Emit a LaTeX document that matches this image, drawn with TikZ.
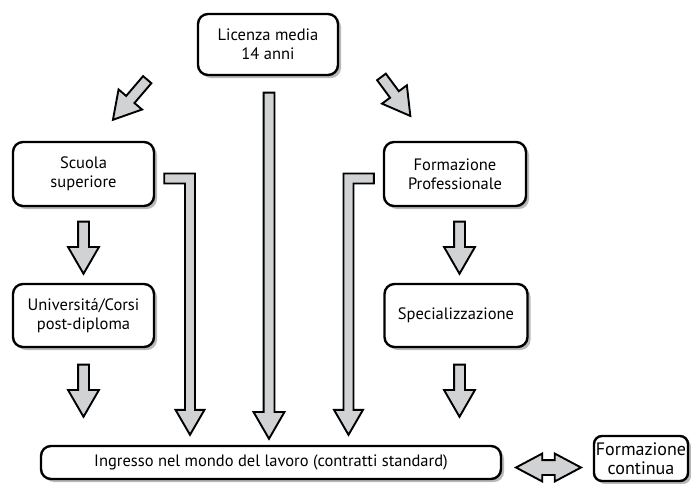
\documentclass[tikz,border=0pt]{standalone}
\usepackage{fontspec}
\setmainfont{PT Sans}
\usetikzlibrary{calc,shapes.arrows,shadows}

\definecolor{arrowgray}{RGB}{208,210,212}
\definecolor{shadowgray}{RGB}{185,185,185}

% fat arrow from one point to another
\newcommand\blkarrow[2]{%
    \path let \p1=(#1), \p2=(#2),
        \n1={atan2(\y2-\y1,\x2-\x1)}, \n2={veclen(\x2-\x1,\y2-\y1)} in
        node[blk, minimum height={\n2-1.5}, rotate=\n1] at ($(\p1)!0.5!(\p2)$) {};}

\begin{document}
\begin{tikzpicture}[x=1pt,y=-1pt,
        font=\fontsize{16.5}{19}\selectfont,
        box/.style={draw,line width=2.4pt,rounded corners=10pt,fill=white,align=center,inner sep=2pt,
            drop shadow={shadow xshift=3pt,shadow yshift=-3pt,fill=shadowgray,opacity=1}},
        blk/.style={single arrow,draw,fill=arrowgray,line width=1.9pt,inner xsep=0pt,inner ysep=4.5pt,
            minimum width=0pt,single arrow head extend=10pt,single arrow tip angle=60},
        dblk/.style={double arrow,draw,fill=arrowgray,line width=1.9pt,inner xsep=0pt,inner ysep=6.5pt,
            minimum width=0pt,double arrow head extend=6.5pt,double arrow tip angle=56}]

    \useasboundingbox (0,0) rectangle (691,483);

    % boxes
    \node[box,minimum width=140pt,minimum height=61pt] (lic) at (268,44.5) {Licenza media\\14 anni};
    \node[box,minimum width=141pt,minimum height=64pt] (scuola) at (83.5,174) {Scuola\\superiore};
    \node[box,minimum width=142pt,minimum height=64pt] (fprof) at (455,174) {Formazione\\Professionale};
    \node[box,minimum width=141pt,minimum height=63pt] (univ) at (83.5,315.5) {Universitá/Corsi\\post-diploma};
    \node[box,minimum width=143pt,minimum height=63pt] (spec) at (456,315.5) {Specializzazione};
    \node[box,minimum width=460pt,minimum height=33pt] (ingr) at (271,462.5)
        {Ingresso nel mondo del lavoro (contratti standard)};
    \node[box,rounded corners=8pt,inner sep=0.5pt,minimum width=94pt,minimum height=45pt,
        font=\fontsize{18}{19.5}\selectfont] (fcont) at (641,458.5) {Formazione\\continua};

    % corners of the bent arrows
    \coordinate (kl) at (190,178.5);
    \coordinate (kr) at (348.5,178.5);
    \coordinate (sl) at ($(scuola.east |- kl)+(9,0)$);
    \coordinate (sr) at ($(fprof.west |- kr)+(-9,0)$);
    \coordinate (tl) at ($(kl |- ingr.north)+(0,-10)$);
    \coordinate (tr) at ($(kr |- ingr.north)+(0,-10)$);

    % arrows
    \blkarrow{$(lic.west)+(-46,31)$}{$(scuola.north)+(32,-24)$}
    \blkarrow{$(lic.east)+(39,28)$}{$(fprof.north)+(-47,-28)$}
    \blkarrow{$(lic.south)+(1,11)$}{$(lic.south |- ingr.north)+(1,-10)$}
    \blkarrow{$(scuola.south)+(0,9)$}{$(univ.north)+(0,-13)$}
    \blkarrow{$(fprof.south)+(4.5,9)$}{$(fprof.south |- univ.north)+(4.5,-13)$}
    \blkarrow{$(univ.south)+(0,11)$}{$(univ.south |- ingr.north)+(0,-32)$}
    \blkarrow{$(spec.south)+(3.5,11)$}{$(spec.south |- ingr.north)+(3.5,-32)$}

    \draw[fill=arrowgray,line width=1.9pt,line join=miter]
        ($(sl)+(0,-5)$) -- ($(kl)+(5,-5)$) -- ($(tl)+(5,-25)$) -- ($(tl)+(14.5,-25)$) -- (tl)
        -- ($(tl)+(-14.5,-25)$) -- ($(tl)+(-5,-25)$) -- ($(kl)+(-5,5)$) -- ($(sl)+(0,5)$) -- cycle;
    \draw[fill=arrowgray,line width=1.9pt,line join=miter]
        ($(sr)+(0,-5)$) -- ($(kr)+(-5,-5)$) -- ($(tr)+(-5,-25)$) -- ($(tr)+(-14.5,-25)$) -- (tr)
        -- ($(tr)+(14.5,-25)$) -- ($(tr)+(5,-25)$) -- ($(kr)+(5,5)$) -- ($(sr)+(0,5)$) -- cycle;

    \node[dblk,minimum height=65pt] (da) at ($(ingr.east)!0.5!(fcont.west)+(1,7)$) {};
\end{tikzpicture}
\end{document}
